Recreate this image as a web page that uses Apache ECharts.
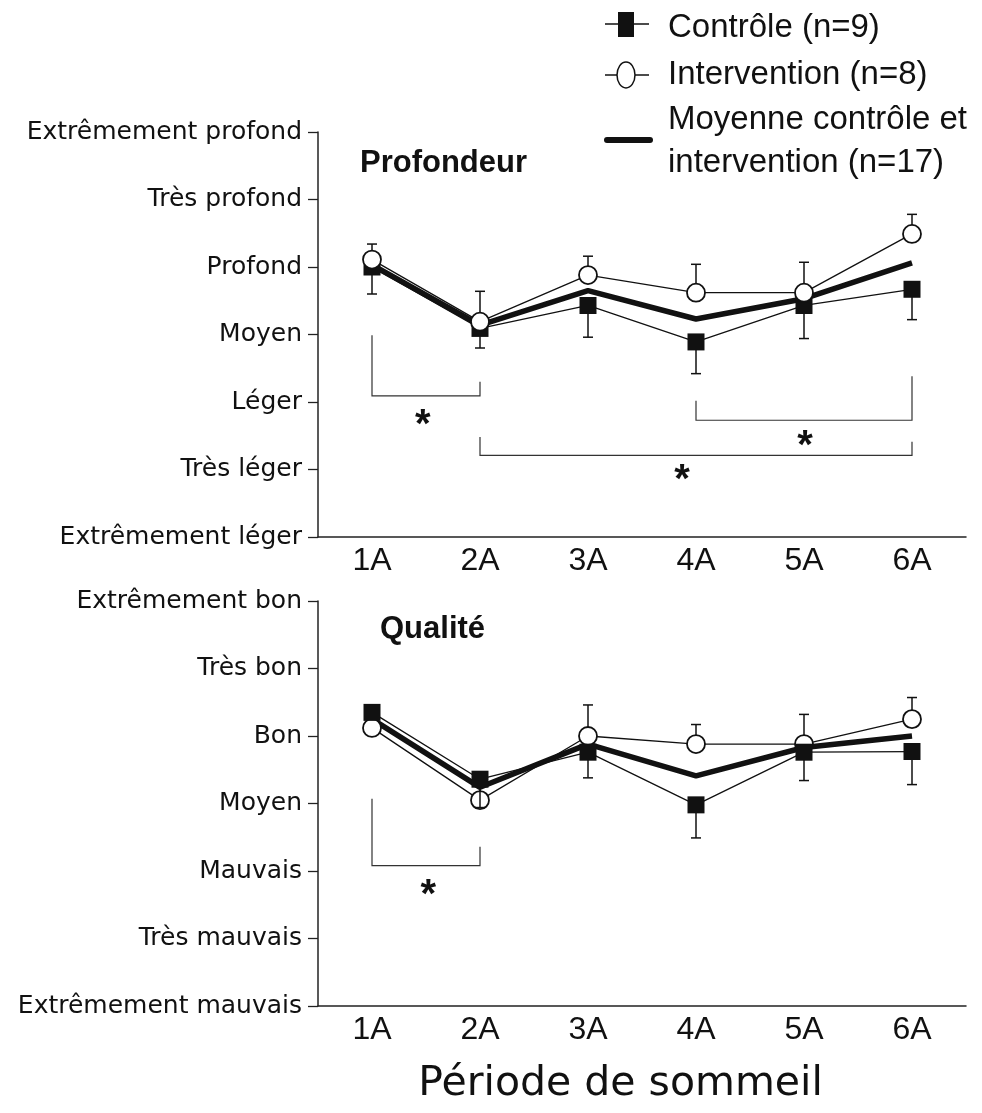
<!DOCTYPE html>
<html>
<head>
<meta charset="utf-8">
<script src="https://cdn.jsdelivr.net/npm/echarts@6/dist/echarts.min.js"></script>
<style>
  html, body { margin: 0; padding: 0; background: #ffffff; }
  #chart { width: 982px; height: 1113px; }
</style>
</head>
<body>
<div id="chart"></div>
<script>
// Sleep periods and the rating scales of the two questions
const periods = ['1A', '2A', '3A', '4A', '5A', '6A'];
const depthLevels = ['Extrêmement léger', 'Très léger', 'Léger', 'Moyen', 'Profond', 'Très profond', 'Extrêmement profond'];
const qualityLevels = ['Extrêmement mauvais', 'Très mauvais', 'Mauvais', 'Moyen', 'Bon', 'Très bon', 'Extrêmement bon'];

// Sleep depth (0 = extrêmement léger ... 6 = extrêmement profond)
const depthControl = [4.00, 3.09, 3.43, 2.89, 3.43, 3.67];
const depthControlSE = [0.40, 0.29, 0.47, 0.47, 0.49, 0.45];
const depthIntervention = [4.11, 3.19, 3.88, 3.62, 3.62, 4.49];
const depthInterventionSE = [0.23, 0.45, 0.28, 0.42, 0.45, 0.29];
const depthMean = [4.03, 3.14, 3.65, 3.23, 3.53, 4.06];

// Sleep quality (0 = extrêmement mauvais ... 6 = extrêmement bon)
const qualityControl = [4.35, 3.36, 3.76, 2.98, 3.76, 3.77];
const qualityControlSE = [0.08, 0.42, 0.38, 0.49, 0.42, 0.49];
const qualityIntervention = [4.12, 3.05, 4.00, 3.88, 3.88, 4.25];
const qualityInterventionSE = [0.08, 0.25, 0.46, 0.29, 0.44, 0.32];
const qualityMean = [4.25, 3.24, 3.88, 3.41, 3.83, 4.00];

// Significance brackets: [from period, to period, left end, bar level, right end, star period, star level]
const depthBrackets = [
  [0, 1, 2.99, 2.09, 2.30, 0.47, 1.78],
  [3, 5, 2.02, 1.73, 2.38, 4.01, 1.47],
  [1, 5, 1.48, 1.21, 1.41, 2.87, 0.96]
];
const qualityBrackets = [
  [0, 1, 3.07, 2.08, 2.36, 0.52, 1.76]
];

const INK = '#111111';
const SANS = '"Liberation Sans", Arial, sans-serif';
const WIDE = '"DejaVu Sans", sans-serif';

function withIndex(values, extra) {
  return values.map((v, i) => extra ? [i, v, extra[i]] : [i, v]);
}

// vertical error bar with a short cap, dir = +1 (up) or -1 (down)
function errorBar(dir) {
  return function (params, api) {
    const i = api.value(0), v = api.value(1), e = api.value(2);
    const p = api.coord([i, v]);
    const q = api.coord([i, v + dir * e]);
    const hw = 5;
    return {
      type: 'group',
      children: [
        { type: 'line', shape: { x1: p[0], y1: p[1], x2: q[0], y2: q[1] }, style: { stroke: INK, lineWidth: 1.5 } },
        { type: 'line', shape: { x1: q[0] - hw, y1: q[1], x2: q[0] + hw, y2: q[1] }, style: { stroke: INK, lineWidth: 1.5 } }
      ]
    };
  };
}

// bracket between two periods plus its asterisk
function bracket(params, api) {
  const i0 = api.value(0), i1 = api.value(1);
  const a = api.coord([i0, api.value(2)]);
  const b = api.coord([i0, api.value(3)]);
  const c = api.coord([i1, api.value(3)]);
  const d = api.coord([i1, api.value(4)]);
  const s = api.value(5), sf = Math.floor(s);
  const p0 = api.coord([sf, api.value(6)]);
  const p1 = api.coord([sf + 1, api.value(6)]);
  const sx = p0[0] + (p1[0] - p0[0]) * (s - sf);
  return {
    type: 'group',
    children: [
      { type: 'polyline', shape: { points: [a, b, c, d] }, style: { stroke: '#333', lineWidth: 1.2, fill: null } },
      { type: 'text', x: sx, y: p0[1] + 9,
        style: { text: '*', fontFamily: SANS, fontWeight: 'bold', fontSize: 40, fill: INK, align: 'center', verticalAlign: 'middle' } }
    ]
  };
}

function xAxisFor(gridIndex, withName) {
  const ax = {
    type: 'category', gridIndex: gridIndex, data: periods, boundaryGap: true,
    axisLine: { lineStyle: { color: '#222', width: 1.5 } },
    axisTick: { alignWithLabel: true, inside: true, length: 8, lineStyle: { color: '#222', width: 1.3 } },
    axisLabel: { color: INK, fontFamily: SANS, fontSize: 32, margin: 8 },
    splitLine: { show: false }
  };
  if (withName) {
    ax.name = 'Période de sommeil';
    ax.nameLocation = 'middle';
    ax.nameGap = 58;
    ax.nameTextStyle = { color: INK, fontFamily: WIDE, fontSize: 41, padding: [0, 43, 0, 0] };
  }
  return ax;
}

function yAxisFor(gridIndex, levels) {
  return {
    type: 'value', gridIndex: gridIndex, min: 0, max: 6, interval: 1,
    axisLine: { show: true, lineStyle: { color: '#222', width: 1.5 } },
    axisTick: { show: true, inside: false, length: 10, lineStyle: { color: '#222', width: 1.3 } },
    axisLabel: { color: INK, fontFamily: WIDE, fontSize: 25, margin: 16, formatter: v => levels[v] },
    splitLine: { show: false }
  };
}

function panelSeries(gi, ctrl, ctrlSE, interv, intervSE, mean, brackets, controlOnTop) {
  const meanLine = {
    type: 'line', name: 'Moyenne', xAxisIndex: gi, yAxisIndex: gi, data: mean,
    symbol: 'none', lineStyle: { color: INK, width: 5.5 }, z: 2, silent: true
  };
  const ctrlBars = {
    type: 'custom', xAxisIndex: gi, yAxisIndex: gi, data: withIndex(ctrl, ctrlSE),
    renderItem: errorBar(-1), encode: { x: 0, y: 1 }, z: controlOnTop ? 5 : 3, silent: true
  };
  const ctrlLine = {
    type: 'line', name: 'Contrôle', xAxisIndex: gi, yAxisIndex: gi, data: ctrl,
    symbol: 'rect', symbolSize: 17, lineStyle: { color: INK, width: 1.3 },
    itemStyle: { color: INK }, z: controlOnTop ? 6 : 4, silent: true
  };
  const intBars = {
    type: 'custom', xAxisIndex: gi, yAxisIndex: gi, data: withIndex(interv, intervSE),
    renderItem: errorBar(1), encode: { x: 0, y: 1 }, z: controlOnTop ? 3 : 5, silent: true
  };
  const intLine = {
    type: 'line', name: 'Intervention', xAxisIndex: gi, yAxisIndex: gi, data: interv,
    symbol: 'circle', symbolSize: 18, showAllSymbol: true, lineStyle: { color: INK, width: 1.3 },
    itemStyle: { color: '#ffffff', borderColor: INK, borderWidth: 1.8 }, z: controlOnTop ? 4 : 6, silent: true
  };
  const marks = {
    type: 'custom', xAxisIndex: gi, yAxisIndex: gi, data: brackets,
    renderItem: bracket, encode: { x: 0, y: 2 }, z: 1, silent: true, clip: false
  };
  return [marks, meanLine, ctrlBars, ctrlLine, intBars, intLine];
}

const chart = echarts.init(document.getElementById('chart'), null, { renderer: 'canvas' });

chart.setOption({
  backgroundColor: '#ffffff',
  animation: false,
  title: [
    { text: 'Profondeur', left: 360, top: 148, textStyle: { color: INK, fontFamily: SANS, fontWeight: 'bold', fontSize: 31 }, padding: 0 },
    { text: 'Qualité', left: 380, top: 614, textStyle: { color: INK, fontFamily: SANS, fontWeight: 'bold', fontSize: 31 }, padding: 0 }
  ],
  grid: [
    { left: 318, right: 16, top: 132, height: 405 },
    { left: 318, right: 16, top: 601, height: 405 }
  ],
  xAxis: [xAxisFor(0, false), xAxisFor(1, true)],
  yAxis: [yAxisFor(0, depthLevels), yAxisFor(1, qualityLevels)],
  series: [
    ...panelSeries(0, depthControl, depthControlSE, depthIntervention, depthInterventionSE, depthMean, depthBrackets, false),
    ...panelSeries(1, qualityControl, qualityControlSE, qualityIntervention, qualityInterventionSE, qualityMean, qualityBrackets, true)
  ],
  graphic: [
    // legend
    { type: 'line', shape: { x1: 605, y1: 24, x2: 649, y2: 24 }, style: { stroke: INK, lineWidth: 1.5 } },
    { type: 'rect', shape: { x: 618, y: 12, width: 16, height: 25 }, style: { fill: INK } },
    { type: 'text', x: 668, y: 28, style: { text: 'Contrôle (n=9)', fontFamily: SANS, fontSize: 33, fill: INK, align: 'left', verticalAlign: 'middle' } },
    { type: 'line', shape: { x1: 605, y1: 75, x2: 649, y2: 75 }, style: { stroke: INK, lineWidth: 1.5 } },
    { type: 'ellipse', shape: { cx: 626, cy: 75, rx: 9, ry: 13 }, style: { fill: '#ffffff', stroke: INK, lineWidth: 1.5 } },
    { type: 'text', x: 668, y: 75, style: { text: 'Intervention (n=8)', fontFamily: SANS, fontSize: 33, fill: INK, align: 'left', verticalAlign: 'middle' } },
    { type: 'line', shape: { x1: 607, y1: 140, x2: 650, y2: 140 }, style: { stroke: INK, lineWidth: 6, lineCap: 'round' } },
    { type: 'text', x: 668, y: 120, style: { text: 'Moyenne contrôle et', fontFamily: SANS, fontSize: 33, fill: INK, align: 'left', verticalAlign: 'middle' } },
    { type: 'text', x: 668, y: 163, style: { text: 'intervention (n=17)', fontFamily: SANS, fontSize: 33, fill: INK, align: 'left', verticalAlign: 'middle' } }
  ]
});
</script>
</body>
</html>
